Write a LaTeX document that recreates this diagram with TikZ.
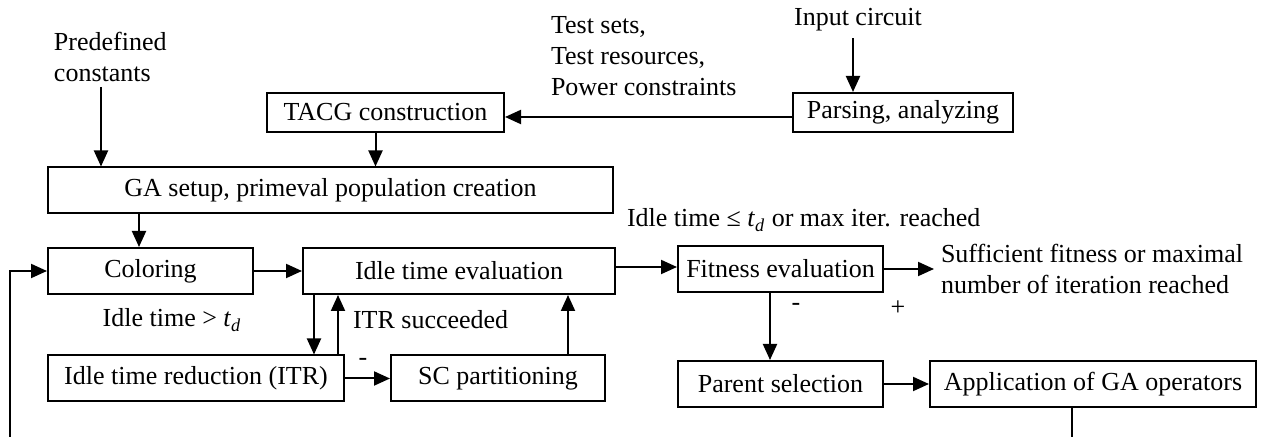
\documentclass[tikz,border=0pt]{standalone}
\usepackage{fontspec}
\setmainfont{Liberation Serif}
\usetikzlibrary{positioning,arrows.meta}

\newcommand{\tdl}{\textit{t}\textsubscript{\textit{d}}}

\begin{document}
\begin{tikzpicture}[
    x=0.5pt, y=-0.5pt,
    font=\fontsize{13}{15.5}\selectfont,
    line width=1pt,
    stage/.style={draw, minimum height=23pt, inner sep=2pt},
    note/.style={inner sep=3pt, align=left},
    >={Triangle[length=8pt,width=7pt]}
  ]
  \useasboundingbox (0,0) rectangle (1265,437);

  % boxes
  \node[stage, minimum width=118.5pt, minimum height=19.5pt] (tacg) at (385.5,112.5) {TACG construction};
  \node[stage, minimum width=110pt, minimum height=19.5pt] (parse) at (903,112.5) {Parsing, analyzing};
  \node[stage, minimum width=282.5pt] (setup) at (330.5,190.5) {GA setup, primeval population creation};
  \node[stage, minimum width=102.5pt] (color) at (150.5,271) {Coloring};
  \node[stage, minimum width=156pt, right=24pt of color] (idle) {Idle time evaluation};
  \node[stage, minimum width=102.5pt] (fit) at (780.5,269) {Fitness evaluation};
  \node[stage, minimum width=148pt] (itr) at (196,378.5) {Idle time reduction (ITR)};
  \node[stage, minimum width=107pt, right=22.5pt of itr] (sc) {SC partitioning};
  \node[stage, minimum width=102.5pt, below=33.5pt of fit] (parent) {Parent selection};
  \node[stage, minimum width=163pt, right=22.5pt of parent] (apply) {Application of GA operators};

  % texts
  \node[note, anchor=west] (consts) at (47,57) {Predefined\\constants};
  \node[note, anchor=west] (tests) at (544,56) {Test sets,\\Test resources,\\Power constraints};
  \node[note] (input) at (858,20) {Input circuit};
  \node[note] (gt) at (172,320) {Idle time > \tdl};
  \node[note, anchor=west] (ok) at (346,320) {ITR succeeded};
  \node[note, anchor=west] (stop) at (620,220) {Idle time ≤ \tdl{} or max iter. reached};
  \node[note, anchor=west] (done) at (934,269) {Sufficient fitness or maximal\\number of iteration reached};
  \node[note] (neg1) at (363,362) {-};
  \node[note] (neg2) at (796,307) {-};
  \node[note] (pos) at (898,308) {+};

  \coordinate (cfix) at (101,87);
  \coordinate (loopL) at (10,437);
  \coordinate (loopR) at (1072,437);

  % arrows
  \draw[->] (cfix) -- (cfix |- setup.north);
  \coordinate (a1) at ([xshift=-5pt]tacg.south);
  \draw[->] (a1) -- (a1 |- setup.north);
  \coordinate (a2) at ([xshift=-2.5pt]input.south);
  \draw[->] (a2) -- (a2 |- parse.north);
  \coordinate (a3) at ([yshift=-2.25pt]parse.west);
  \draw[->] (a3) -- (a3 -| tacg.east);
  \coordinate (a4) at ([xshift=-5.75pt]color.north);
  \draw[->] (a4 |- setup.south) -- (a4);
  \draw[->] (color) -- (idle);
  \coordinate (a5) at ([xshift=6pt]idle.south west);
  \draw[->] (a5) -- (a5 |- itr.north);
  \coordinate (a6) at ([xshift=-3.5pt]itr.north east);
  \draw[->] (a6) -- (a6 |- idle.south);
  \draw[->] (itr) -- (sc);
  \coordinate (a7) at ([xshift=-19pt]sc.north east);
  \draw[->] (a7) -- (a7 |- idle.south);
  \coordinate (a8) at ([yshift=2pt]idle.east);
  \draw[->] (a8) -- (a8 -| fit.west);
  \draw[->] (fit.east) -- (done.west);
  \coordinate (a9) at ([xshift=-5.25pt]fit.south);
  \draw[->] (a9) -- (a9 |- parent.north);
  \draw[->] (parent) -- (apply);
  \draw (apply.south -| loopR) -- (loopR);
  \draw[->] (loopL) |- (color.west);
\end{tikzpicture}
\end{document}
